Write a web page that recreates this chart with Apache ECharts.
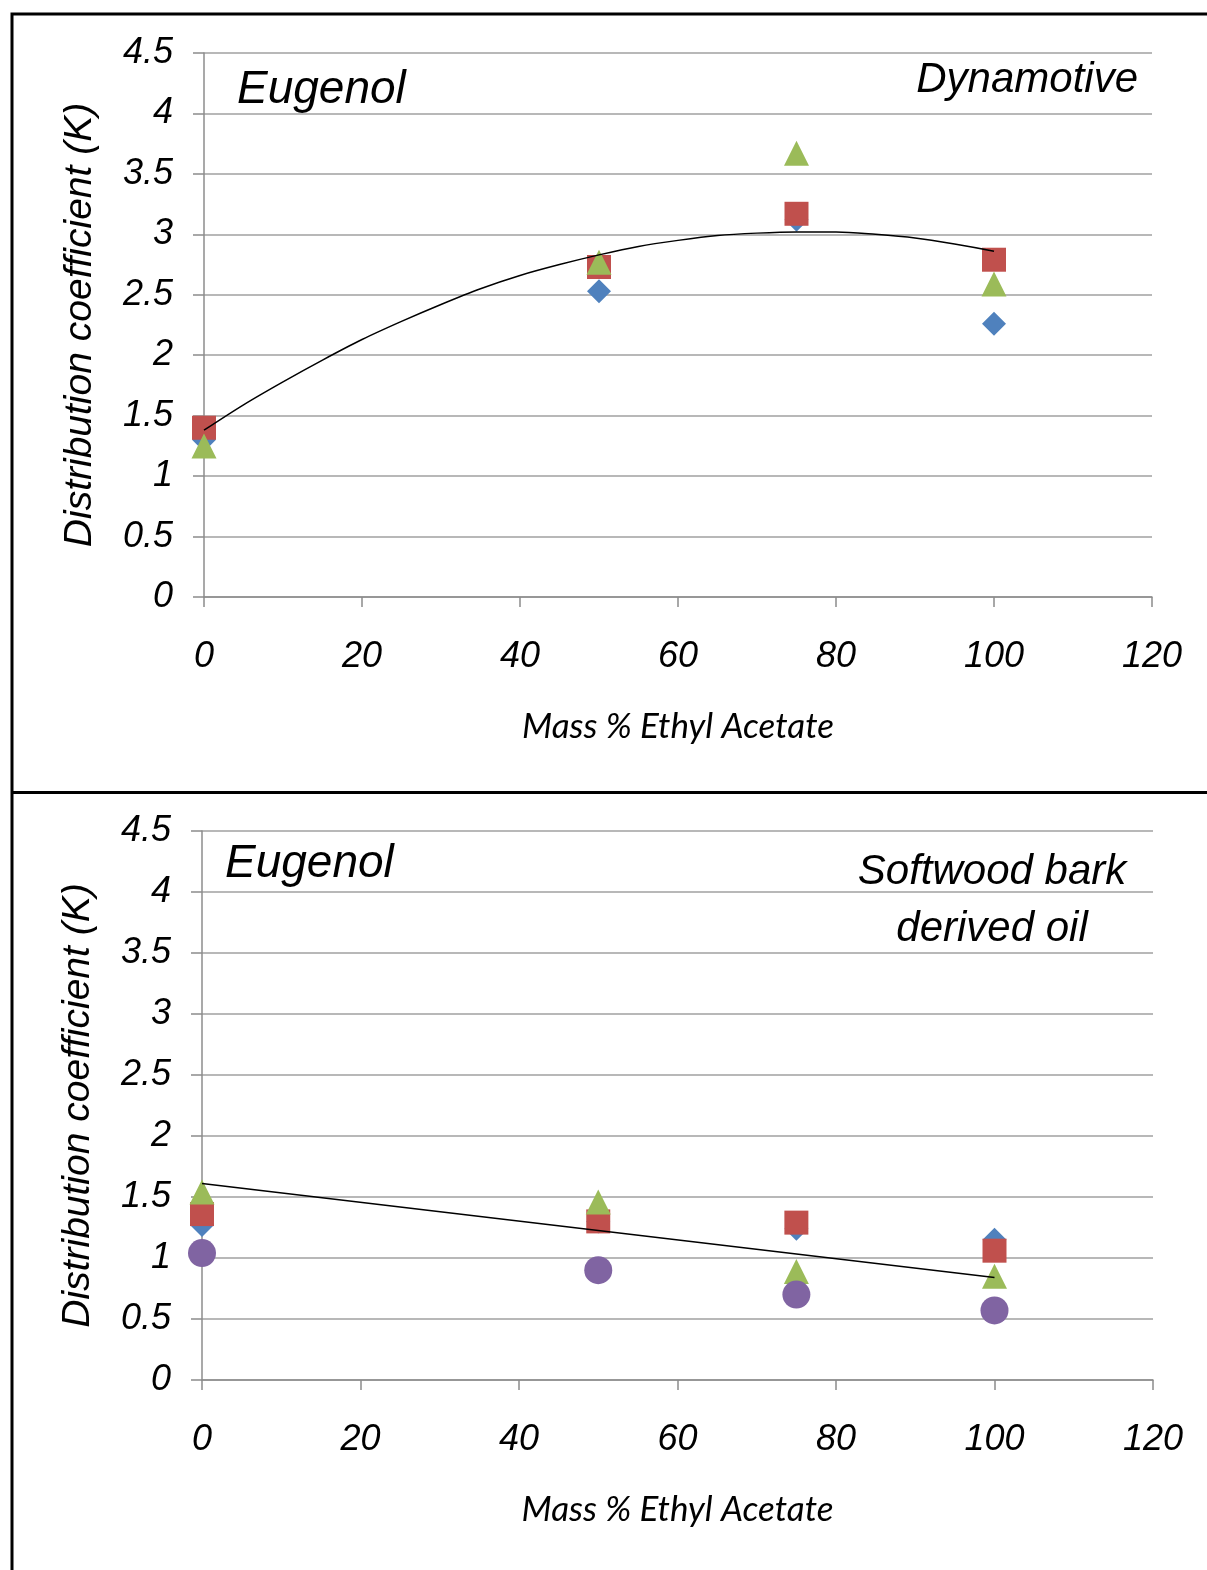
<!DOCTYPE html>
<html>
<head>
<meta charset="utf-8">
<script src="https://cdn.jsdelivr.net/npm/echarts@6/dist/echarts.min.js"></script>
<style>
html,body{margin:0;padding:0;background:#fff;}
#c{width:1207px;height:1570px;}
</style>
</head>
<body>
<div id="c"></div>
<script>
// ---- Data ----
const xTicks = [0, 20, 40, 60, 80, 100, 120];
const yTicks = [0, 0.5, 1, 1.5, 2, 2.5, 3, 3.5, 4, 4.5];
const xVals = [0, 50, 75, 100];

// Top panel: Dynamotive
const dynBlue  = [1.30, 2.53, 3.12, 2.26];
const dynRed   = [1.40, 2.73, 3.17, 2.79];
const dynGreen = [1.25, 2.77, 3.67, 2.59];
// trend curve
const dynTrendX = [0, 5, 10, 15, 20, 25, 30, 35, 40, 45, 50, 55, 60, 65, 70, 75, 80, 85, 90, 95, 100];
const dynTrendY = [1.38, 1.59, 1.78, 1.96, 2.13, 2.28, 2.42, 2.55, 2.66, 2.75, 2.83, 2.90, 2.95, 2.99, 3.01, 3.02, 3.02, 3.00, 2.97, 2.92, 2.86];

// Bottom panel: Softwood bark derived oil
const swBlue   = [1.27, 1.30, 1.24, 1.15];
const swRed    = [1.36, 1.30, 1.29, 1.06];
const swGreen  = [1.54, 1.46, 0.89, 0.85];
const swPurple = [1.04, 0.90, 0.70, 0.57];
const swTrendX = [0, 100];
const swTrendY = [1.61, 0.84];

const xTitle = 'Mass % Ethyl Acetate';
const yTitle = 'Distribution coefficient (K)';

// ---- Build chart ----
const pair = (xs, ys) => xs.map((x, i) => [x, ys[i]]);
const C = {blue:'#4F81BD', red:'#C0504D', green:'#9BBB59', purple:'#8064A2'};
const FONT = '"Liberation Sans", Arial, sans-serif';

function xAxis(gi){
  return {
    gridIndex: gi, type: 'value', min: 0, max: 120, interval: 20,
    axisLine: {show: true, lineStyle: {color: '#8c8c8c', width: 1.5}},
    axisTick: {show: true, length: 10, lineStyle: {color: '#8c8c8c', width: 1.5}},
    splitLine: {show: false},
    axisLabel: {margin: 42, color: '#000', fontFamily: FONT, fontStyle: 'italic', fontSize: 36},
    name: xTitle, nameLocation: 'middle', nameGap: 112,
    nameTextStyle: {fontFamily: 'Lato, "Open Sans", sans-serif', fontStyle: 'italic', fontSize: 35, color: '#000'}
  };
}
function yAxis(gi){
  return {
    gridIndex: gi, type: 'value', min: 0, max: 4.5, interval: 0.5,
    axisLine: {show: true, lineStyle: {color: '#8c8c8c', width: 1.5}},
    axisTick: {show: true, length: 11, lineStyle: {color: '#8c8c8c', width: 1.5}},
    splitLine: {show: true, lineStyle: {color: '#a0a0a0', width: 1.5}},
    axisLabel: {margin: 31, color: '#000', fontFamily: FONT, fontStyle: 'italic', fontSize: 36},
    name: yTitle, nameLocation: 'middle', nameGap: 104, nameRotate: 90,
    nameTextStyle: {fontFamily: FONT, fontStyle: 'italic', fontSize: 39, color: '#000'}
  };
}
function sc(gi, data, color, symbol, size, z){
  return {type: 'scatter', xAxisIndex: gi, yAxisIndex: gi, data: data,
    symbol: symbol, symbolSize: size, itemStyle: {color: color, opacity: 1}, z: z, silent: true};
}
function trend(gi, data, smooth){
  return {type: 'line', xAxisIndex: gi, yAxisIndex: gi, data: data, smooth: smooth,
    showSymbol: false, symbol: 'none', lineStyle: {color: '#000', width: 1.5}, z: 10, silent: true};
}

const chart = echarts.init(document.getElementById('c'), null, {renderer: 'canvas'});
chart.setOption({
  animation: false,
  backgroundColor: '#fff',
  grid: [
    {left: 204, right: 55, top: 53, bottom: 973, containLabel: false},
    {left: 202, right: 54, top: 831, bottom: 190, containLabel: false}
  ],
  xAxis: [xAxis(0), xAxis(1)],
  yAxis: [yAxis(0), yAxis(1)],
  series: [
    sc(0, pair(xVals, dynBlue), C.blue, 'diamond', 24, 2),
    sc(0, pair(xVals, dynRed), C.red, 'rect', 24, 3),
    sc(0, pair(xVals, dynGreen), C.green, 'triangle', 25, 4),
    trend(0, pair(dynTrendX, dynTrendY), 0.3),
    sc(1, pair(xVals, swBlue), C.blue, 'diamond', 24, 2),
    sc(1, pair(xVals, swRed), C.red, 'rect', 24, 3),
    sc(1, pair(xVals, swGreen), C.green, 'triangle', 25, 4),
    sc(1, pair(xVals, swPurple), C.purple, 'circle', 28, 5),
    trend(1, pair(swTrendX, swTrendY), false)
  ],
  graphic: [
    {type: 'rect', shape: {x: 12, y: 14, width: 1400, height: 2000}, style: {fill: 'none', stroke: '#000', lineWidth: 3}, z: 100},
    {type: 'line', shape: {x1: 12, y1: 792.5, x2: 1300, y2: 792.5}, style: {stroke: '#000', lineWidth: 3}, z: 100},
    {type: 'text', x: 237, y: 90, style: {text: 'Eugenol', font: 'italic 46px ' + FONT, fill: '#000', textAlign: 'left', textVerticalAlign: 'middle'}, z: 50},
    {type: 'text', x: 1138, y: 80, style: {text: 'Dynamotive', font: 'italic 42px ' + FONT, fill: '#000', textAlign: 'right', textVerticalAlign: 'middle'}, z: 50},
    {type: 'text', x: 225, y: 864, style: {text: 'Eugenol', font: 'italic 46px ' + FONT, fill: '#000', textAlign: 'left', textVerticalAlign: 'middle'}, z: 50},
    {type: 'text', x: 992, y: 872, style: {text: 'Softwood bark', font: 'italic 42px ' + FONT, fill: '#000', textAlign: 'center', textVerticalAlign: 'middle'}, z: 50},
    {type: 'text', x: 992, y: 929, style: {text: 'derived oil', font: 'italic 42px ' + FONT, fill: '#000', textAlign: 'center', textVerticalAlign: 'middle'}, z: 50}
  ]
});
</script>
</body>
</html>
